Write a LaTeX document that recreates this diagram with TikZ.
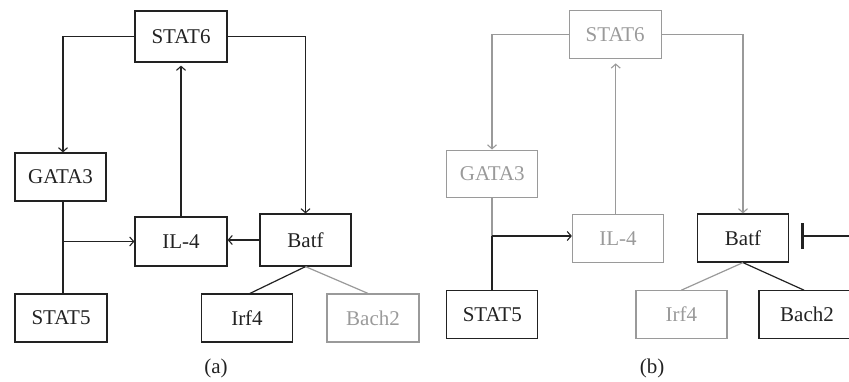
\documentclass[tikz,border=0pt]{standalone}
\usepackage{fontspec}
\setmainfont{Liberation Serif}
\usetikzlibrary{arrows.meta}
\definecolor{dk}{HTML}{222222}
\definecolor{lt}{HTML}{9A9A9A}
\tikzset{
  gbox/.style={draw, line width=1.2pt, rectangle, inner sep=0pt, font=\fontsize{21}{24}\selectfont},
  on/.style={draw=dk, text=dk},
  off/.style={draw=lt, text=lt},
  con/.style={line width=1.2pt},
  arr/.style={con, -{Straight Barb[length=4pt,width=9pt,line width=1.1pt]}},
  inh/.style={con, -{Bar[width=26pt,line width=2.4pt]}},
  captxt/.style={font=\fontsize{21}{24}\selectfont, text=dk}
}
\begin{document}
\begin{tikzpicture}[x=1pt,y=-1pt]
\useasboundingbox (0,0) rectangle (849,381);
% ---------------- panel (a) ----------------
\node[gbox,on,minimum width=92pt,minimum height=51pt] (aS6) at (181,36.5) {STAT6};
\node[gbox,on,minimum width=91pt,minimum height=48pt] (aG3) at (60.5,177) {GATA3};
\node[gbox,on,minimum width=92pt,minimum height=49pt] (aIL) at (181,241.5) {IL-4};
\node[gbox,on,minimum width=91pt,minimum height=52pt] (aBa) at (305.5,240) {Batf};
\node[gbox,on,minimum width=92pt,minimum height=48pt] (aS5) at (61,318) {STAT5};
\node[gbox,on,minimum width=91pt,minimum height=48pt] (aIr) at (247,318) {Irf4};
\node[gbox,off,minimum width=92pt,minimum height=48pt] (aBc) at (373,318) {Bach2};
\coordinate (aJ) at (63,241.5);
\coordinate (aX) at (63,177);
\draw[arr,dk] (aS6.west) -| (aG3.north -| aX);
\draw[arr,dk] (aS6.east) -| (aBa.north);
\draw[arr,dk,shorten >=3pt] (aIL.north) -- (aS6.south);
\draw[arr,dk] (aBa.west) -- (aIL.east |- aBa.west);
\draw[con,dk] (aG3.south -| aX) -- (aS5.north -| aX);
\draw[arr,dk] (aJ) -- (aIL.west);
\draw[con,dk] (aBa.south) -- ([xshift=3pt]aIr.north);
\draw[con,lt] (aBa.south) -- ([xshift=-5pt]aBc.north);
\node[captxt] (capA) at (216,368) {(a)};
% ---------------- panel (b) ----------------
\node[gbox,off,minimum width=92pt,minimum height=48pt] (bS6) at (615.2,34.8) {STAT6};
\node[gbox,off,minimum width=91pt,minimum height=47pt] (bG3) at (492.3,173.6) {GATA3};
\node[gbox,off,minimum width=91pt,minimum height=48pt] (bIL) at (618,238.2) {IL-4};
\node[gbox,on,minimum width=91pt,minimum height=48pt] (bBa) at (743,238) {Batf};
\node[gbox,on,minimum width=91pt,minimum height=47.5pt] (bS5) at (492.3,314.5) {STAT5};
\node[gbox,off,minimum width=91pt,minimum height=47.5pt] (bIr) at (681.4,314.5) {Irf4};
\node[gbox,on,minimum width=96pt,minimum height=47.5pt] (bBc) at (807,314.5) {Bach2};
\coordinate (bJ) at (492,236);
\coordinate (bX) at (492,200);
\coordinate (bV) at (615.7,100);
\coordinate (bR) at (860,236);
\draw[arr,lt] (bS6.west) -| (bG3.north -| bX);
\draw[arr,lt] (bS6.east) -| (bBa.north);
\draw[arr,lt,shorten >=4pt] (bIL.north -| bV) -- (bS6.south -| bV);
\draw[con,lt] (bG3.south -| bX) -- (bJ);
\draw[con,dk] (bJ) -- (bS5.north -| bX);
\draw[arr,dk] (bJ) -- (bIL.west |- bJ);
\draw[con,lt] (bBa.south) -- (bIr.north);
\draw[con,dk] (bBa.south) -- ([xshift=-3pt]bBc.north);
\draw[inh,dk,shorten >=12pt] (bR) -- (bBa.east |- bR);
\node[captxt] (capB) at (652,368) {(b)};
\end{tikzpicture}
\end{document}
